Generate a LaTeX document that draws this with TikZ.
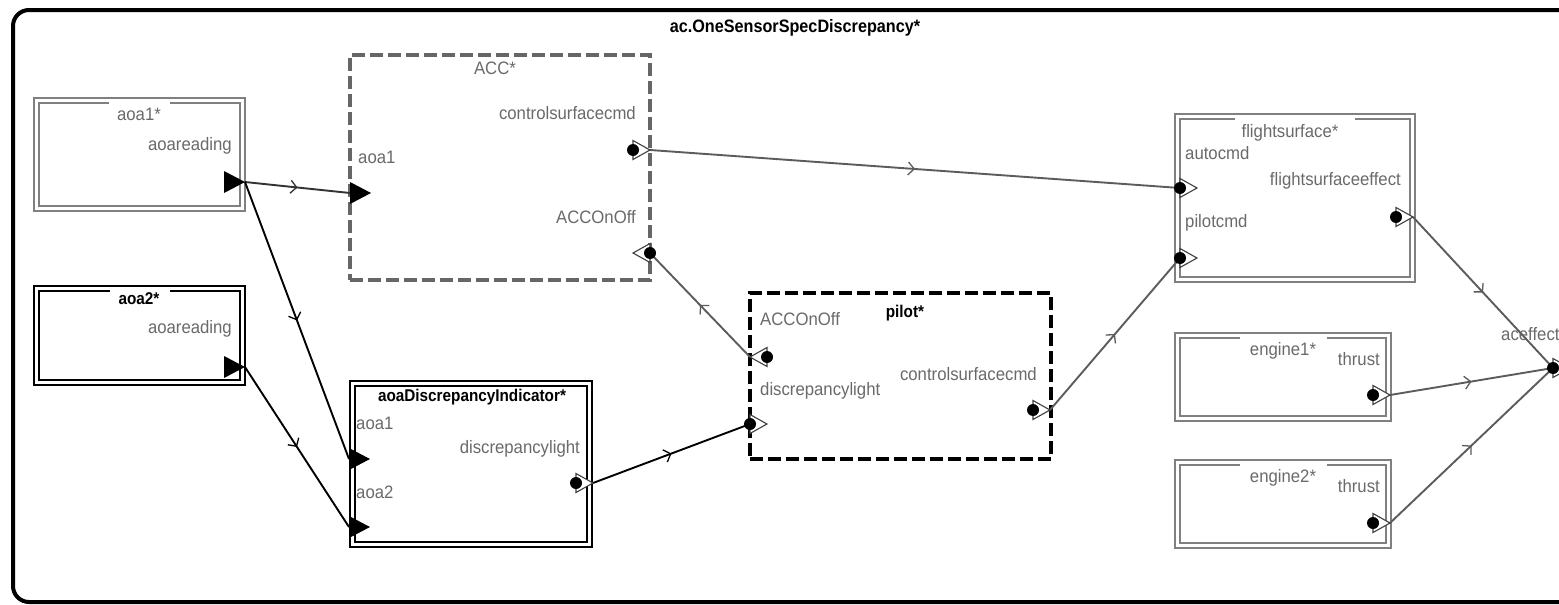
\documentclass[tikz,border=0pt]{standalone}
\usepackage{fontspec}
\setmainfont{Liberation Sans}
\newfontfamily\rcond{Liberation Sans}[FakeStretch=0.93]
\newfontfamily\bcond{Liberation Sans}[FakeStretch=0.9]
\usetikzlibrary{arrows.meta,decorations.markings,fit}
\definecolor{lblgray}{HTML}{6A6A6A}
\definecolor{boxgray}{HTML}{808080}
\definecolor{wiregray}{HTML}{5C5C5C}
\definecolor{accgray}{HTML}{666666}
\tikzset{
  lbl/.style={font=\rcond\fontsize{18}{18}\selectfont, text=lblgray, inner sep=0},
  bttl/.style={font=\bcond\bfseries\fontsize{17}{17}\selectfont, text=black, inner sep=0},
  wire/.style={line width=1.9, draw=#1, postaction={decorate},
    decoration={markings, mark=at position 0.5 with {\arrow[#1, line width=1.3]{Straight Barb[length=6pt,width=13pt]}}}},
  wire/.default=wiregray,
  dashbox/.style={draw=#1, line width=4, dash pattern=on 13pt off 5pt, inner sep=0},
  portline/.style={draw=black!75, fill=white, line width=1.1}
}
% double-lined box: name x1 y1 x2 y2 colour gapx1 gapx2
\newcommand\DBox[8]{%
  \node[inner sep=0, fit={(#2,#3) (#4,#5)}] (#1) {};
  \draw[draw=#6, line width=2.1] ({#2+1},{#3+1}) rectangle ({#4-1},{#5-1});
  \draw[draw=#6, line width=2.1] (#7,{#3+6}) -- ({#2+6},{#3+6}) -- ({#2+6},{#5-6}) -- ({#4-6},{#5-6}) -- ({#4-6},{#3+6}) -- (#8,{#3+6});
}
% dot-and-open-triangle port: dot x, y, direction of apex
\newcommand\Pdot[3]{%
  \filldraw[portline] (#1,{#2-9.5}) -- ({#1+17*(#3)},#2) -- (#1,{#2+9.5}) -- cycle;
  \fill[black] (#1,#2) circle (6);
}
% filled triangle port: base x, y, direction
\newcommand\Ptri[3]{%
  \fill[black] (#1,{#2-11}) -- ({#1+21*(#3)},#2) -- (#1,{#2+11}) -- cycle;
}
\begin{document}
\begin{tikzpicture}[x=1pt,y=-1pt]
\useasboundingbox (0,0) rectangle (1559,605);
\fill[white] (0,0) rectangle (1559,605);
\begin{scope}
  \clip (0,0) rectangle (1559,605);
  \node[draw=black, line width=4, rounded corners=16, inner sep=0, fit={(13,10) (1620,602)}] (frame) {};
\end{scope}
\node[bttl, font=\bcond\bfseries\fontsize{18}{18}\selectfont] (title) at (795,28) {ac.OneSensorSpecDiscrepancy*};

% blocks
\DBox{aoa1}{33}{97}{246}{212}{boxgray}{109}{170}
\DBox{aoa2}{33}{285}{246}{386}{black}{110}{170}
\DBox{DI}{349}{380}{593}{548}{black}{470}{470}
\DBox{fs}{1174}{113}{1416}{283}{boxgray}{1235}{1355}
\DBox{eng1}{1174}{332}{1392}{422}{boxgray}{1240}{1327}
\DBox{eng2}{1174}{459}{1392}{549}{boxgray}{1240}{1327}
\node[dashbox=accgray, fit={(350,55) (650,280)}] (ACC) {};
\node[dashbox=black, fit={(750,293) (1051,459)}] (pilot) {};

% labels
\node[lbl, anchor=mid] (t-aoa1) at (139,118) {aoa1*};
\node[lbl, anchor=mid east] (l-aoa1r) at (232,148) {aoareading};
\node[bttl, anchor=mid] (t-aoa2) at (139,302) {aoa2*};
\node[lbl, anchor=mid east] (l-aoa2r) at (232,331) {aoareading};
\node[lbl, anchor=mid] (t-acc) at (495,72) {ACC*};
\node[lbl, anchor=mid east] (l-acccsc) at (636,117) {controlsurfacecmd};
\node[lbl, anchor=mid west] (l-accaoa1) at (358,161) {aoa1};
\node[lbl, anchor=mid east] (l-acconoff) at (636,221) {ACCOnOff};
\node[bttl, anchor=mid] (t-di) at (472,399) {aoaDiscrepancyIndicator*};
\node[lbl, anchor=mid west] (l-diaoa1) at (356,427) {aoa1};
\node[lbl, anchor=mid west] (l-diaoa2) at (356,496) {aoa2};
\node[lbl, anchor=mid east] (l-dilight) at (580,451) {discrepancylight};
\node[bttl, anchor=mid] (t-pilot) at (905,315) {pilot*};
\node[lbl, anchor=mid west] (l-ponoff) at (760,323) {ACCOnOff};
\node[lbl, anchor=mid west] (l-plight) at (760,393) {discrepancylight};
\node[lbl, anchor=mid east] (l-pcsc) at (1037,378) {controlsurfacecmd};
\node[lbl, anchor=mid] (t-fs) at (1290,135) {flightsurface*};
\node[lbl, anchor=mid west] (l-auto) at (1185,157) {autocmd};
\node[lbl, anchor=mid east] (l-fseff) at (1401,183) {flightsurfaceeffect};
\node[lbl, anchor=mid west] (l-pcmd) at (1185,225) {pilotcmd};
\node[lbl, anchor=mid] (t-e1) at (1283,353) {engine1*};
\node[lbl, anchor=mid east] (l-e1t) at (1380,363) {thrust};
\node[lbl, anchor=mid] (t-e2) at (1283,480) {engine2*};
\node[lbl, anchor=mid east] (l-e2t) at (1380,490) {thrust};
\node[lbl, anchor=mid west] (l-aceff) at (1501,338) {aceffect};

% port connection points
\coordinate (aoa1-out) at (245,182);
\coordinate (aoa2-out) at (245,367);
\coordinate (acc-aoa1) at (350,193);
\coordinate (di-aoa1) at (349,459);
\coordinate (di-aoa2) at (349,527);
\coordinate (di-light) at (593,483);
\coordinate (p-light) at (750,424);
\coordinate (p-onoff) at (750,357);
\coordinate (acc-onoff) at (650,253);
\coordinate (acc-csc) at (650,150);
\coordinate (fs-auto) at (1180,188);
\coordinate (p-csc) at (1050,410);
\coordinate (fs-pilot) at (1180,258);
\coordinate (fs-eff) at (1413,217);
\coordinate (ac-eff) at (1553,368);
\coordinate (e1-thrust) at (1390,395);
\coordinate (e2-thrust) at (1390,523);

% connectors
\draw[wire=black!80] (aoa1-out) -- (acc-aoa1);
\draw[wire=black] (aoa1-out) -- (di-aoa1);
\draw[wire=black] (aoa2-out) -- (di-aoa2);
\draw[wire=black] (di-light) -- (p-light);
\draw[wire] (p-onoff) -- (acc-onoff);
\draw[wire] (acc-csc) -- (fs-auto);
\draw[wire] (p-csc) -- (fs-pilot);
\draw[wire] (fs-eff) -- (ac-eff);
\draw[wire] (e1-thrust) -- (ac-eff);
\draw[wire] (e2-thrust) -- (ac-eff);

% port glyphs
\Ptri{224}{182}{1}
\Ptri{224}{367}{1}
\Ptri{350}{193}{1}
\Ptri{349}{459}{1}
\Ptri{349}{527}{1}
\Pdot{633}{150}{1}
\Pdot{650}{253}{-1}
\Pdot{767}{357}{-1}
\Pdot{750}{424}{1}
\Pdot{1033}{410}{1}
\Pdot{576}{483}{1}
\Pdot{1180}{188}{1}
\Pdot{1180}{258}{1}
\Pdot{1396}{217}{1}
\Pdot{1373}{395}{1}
\Pdot{1373}{523}{1}
\begin{scope}
  \clip (0,0) rectangle (1559,605);
  \Pdot{1553}{368}{1}
\end{scope}
\end{tikzpicture}
\end{document}
